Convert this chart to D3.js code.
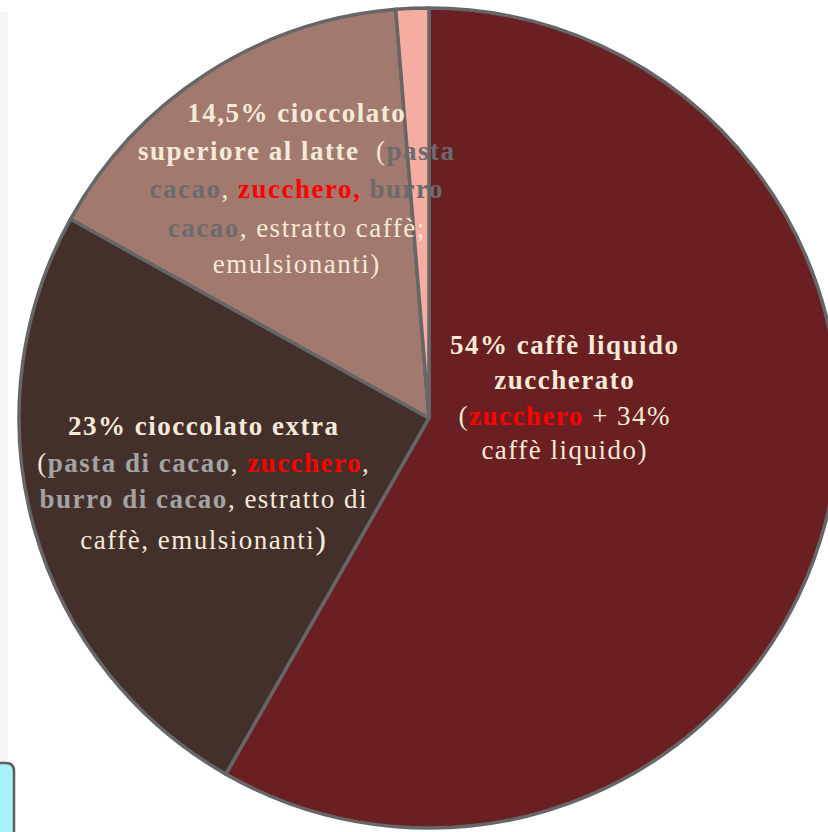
<!DOCTYPE html>
<html><head><meta charset="utf-8">
<script src="https://cdn.jsdelivr.net/npm/d3@7"></script>
<style>html,body{margin:0;padding:0;background:#fff;}svg{display:block;}</style>
</head><body>
<script>
const categories = ["caffè liquido zuccherato", "cioccolato extra", "cioccolato superiore al latte", "altro"];
const values = [54, 23, 14.5, 1.2];
const colors = ["#6A2023", "#43302B", "#A2796E", "#F4ADA0"];

const CREAM = "#F5EAD8", RED = "#FF0000", GREY_LIGHT = "#A3A3A3", GREY_DARK = "#6B6B6B";
// label lines: arrays of [text, color, bold, fontSize?]
const labels = [
  { cx: 564, baselines: [354, 389, 425, 459], lines: [
    [["54% caffè liquido", CREAM, true]],
    [["zuccherato", CREAM, true]],
    [["(", CREAM, false], ["zucchero", RED, true], [" + 34%", CREAM, false]],
    [["caffè liquido)", CREAM, false]]
  ]},
  { cx: 203, baselines: [435, 472, 508, 549], lines: [
    [["23% cioccolato extra", CREAM, true]],
    [["(", CREAM, false], ["pasta di cacao", GREY_LIGHT, true], [", ", CREAM, false], ["zucchero", RED, true], [",", CREAM, false]],
    [["burro di cacao", GREY_LIGHT, true], [", estratto di", CREAM, false]],
    [["caffè, emulsionanti", CREAM, false], [")", CREAM, false, 32]]
  ]},
  { cx: 296, baselines: [122, 160, 198, 237, 273], lines: [
    [["14,5% cioccolato", CREAM, true]],
    [["superiore al latte\u00a0 ", CREAM, true], ["(", CREAM, false], ["pasta", GREY_DARK, true]],
    [["cacao", GREY_DARK, true], [", ", CREAM, false], ["zucchero,", RED, true], [" ", CREAM, false], ["burro", GREY_DARK, true]],
    [["cacao", GREY_DARK, true], [", estratto caffè;", CREAM, false]],
    [["emulsionanti)", CREAM, false]]
  ]}
];

const W = 828, H = 832;
const svg = d3.select("body").append("svg").attr("width", W).attr("height", H);

// left side decorations
svg.append("rect").attr("x", 0).attr("y", 12).attr("width", 8).attr("height", 752).attr("fill", "#F4F5F8");
svg.append("path")
  .attr("d", "M-5,763 L6,763 Q14,763 14,771 L14,840 L-5,840 Z")
  .attr("fill", "#A6F2F6").attr("stroke", "#5E5E5E").attr("stroke-width", 2.5);

const cx = 429, cy = 418, r = 410;
const pie = d3.pie().sort(null).value(d => d)(values);
const arc = d3.arc().innerRadius(0).outerRadius(r);
const g = svg.append("g").attr("transform", `translate(${cx},${cy})`);
g.selectAll("path").data(pie).join("path")
  .attr("d", arc)
  .attr("fill", (d, i) => colors[i])
  .attr("stroke", "#666666").attr("stroke-width", 3.5).attr("stroke-linejoin", "round");

const FONT = "'Liberation Serif', 'Times New Roman', serif";
const FS = 27, LS = 1.5;
labels.forEach(lab => {
  lab.lines.forEach((line, li) => {
    const t = svg.append("text")
      .attr("x", lab.cx + LS / 2).attr("y", lab.baselines[li])
      .attr("text-anchor", "middle")
      .attr("font-family", FONT).attr("font-size", FS)
      .attr("letter-spacing", LS)
      .style("white-space", "pre");
    line.forEach(seg => {
      const ts = t.append("tspan").text(seg[0]).attr("fill", seg[1])
        .attr("font-weight", seg[2] ? "bold" : "normal");
      if (seg[3]) ts.attr("font-size", seg[3]);
    });
  });
});
</script>
</body></html>
